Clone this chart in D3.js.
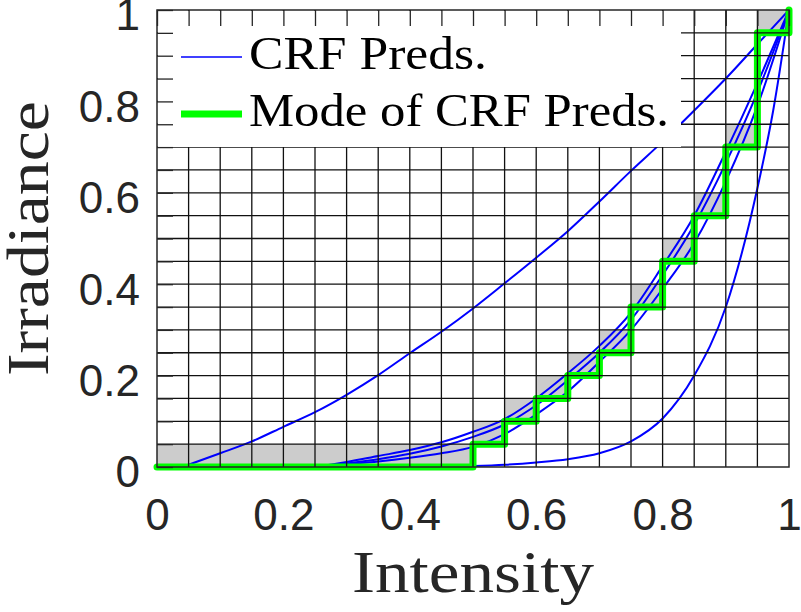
<!DOCTYPE html>
<html>
<head>
<meta charset="utf-8">
<script src="https://cdn.jsdelivr.net/npm/d3@7"></script>
<style>
  body { margin: 0; background: #fff; }
  svg { display: block; }
</style>
</head>
<body>
<div id="chart-area"></div>
<script>
// Mode of the predictions, one value per 0.05 intensity bin (last point closes the stairs at 1)
const modeX = [0, 0.05, 0.1, 0.15, 0.2, 0.25, 0.3, 0.35, 0.4, 0.45, 0.5,
               0.55, 0.6, 0.65, 0.7, 0.75, 0.8, 0.85, 0.9, 0.95, 1];
const modeY = [0, 0, 0, 0, 0, 0, 0, 0, 0, 0, 0.05,
               0.1, 0.15, 0.2, 0.25, 0.35, 0.45, 0.55, 0.7, 0.95, 1];
const binSize = 0.05;

// CRF predictions
const crfAX = [0.04, 0.1, 0.15, 0.2, 0.25, 0.3, 0.35, 0.4, 0.45, 0.5, 0.55, 0.6, 0.65, 0.7, 0.75, 0.8, 0.85, 0.9, 0.95, 1];
const crfAY = [0, 0.03, 0.056, 0.088, 0.12, 0.158, 0.201, 0.249, 0.296, 0.347, 0.402, 0.458, 0.516, 0.581, 0.648, 0.712, 0.78, 0.85, 0.925, 1];

const clusterX = [0.25, 0.3, 0.35, 0.4, 0.45, 0.5, 0.55, 0.6, 0.65, 0.7, 0.75, 0.8, 0.85, 0.9, 0.95, 1];
const crfBY = [0, 0.011, 0.024, 0.037, 0.054, 0.077, 0.105, 0.15, 0.205, 0.265, 0.338, 0.44, 0.55, 0.69, 0.84, 1];
const crfCY = [0, 0.008, 0.017, 0.029, 0.045, 0.066, 0.093, 0.135, 0.19, 0.25, 0.322, 0.42, 0.53, 0.665, 0.82, 1];
const crfDY = [0, 0.006, 0.012, 0.02, 0.03, 0.044, 0.072, 0.115, 0.165, 0.23, 0.3, 0.39, 0.49, 0.625, 0.79, 1];

const crfEX = [0.45, 0.5, 0.55, 0.6, 0.65, 0.7, 0.75, 0.8, 0.85, 0.9, 0.95, 0.975, 1];
const crfEY = [0, 0.002, 0.005, 0.01, 0.017, 0.03, 0.056, 0.106, 0.2, 0.35, 0.61, 0.78, 1];

const tickValues = [0, 0.2, 0.4, 0.6, 0.8, 1];
const tickLabels = ["0", "0.2", "0.4", "0.6", "0.8", "1"];
const legendLabels = ["CRF Preds.", "Mode of CRF Preds."];

// Chart dimensions
const width = 801;
const height = 612;
const plot = { left: 157, right: 789, top: 10, bottom: 467 };

const x = d3.scaleLinear().domain([0, 1]).range([plot.left, plot.right]);
const y = d3.scaleLinear().domain([0, 1]).range([plot.bottom, plot.top]);

const svg = d3.select("#chart-area")
    .append("svg")
    .attr("width", width)
    .attr("height", height);

svg.append("rect").attr("width", width).attr("height", height).attr("fill", "#fff");

// Gray cells: the mode bin in every column
const cells = modeX.slice(0, -1).map((v, i) => ({ x0: v, x1: modeX[i + 1], y0: modeY[i] }));
svg.selectAll(".cell")
    .data(cells)
    .enter()
    .append("rect")
    .attr("class", "cell")
    .attr("x", d => x(d.x0))
    .attr("y", d => y(d.y0 + binSize))
    .attr("width", d => x(d.x1) - x(d.x0))
    .attr("height", d => y(d.y0) - y(d.y0 + binSize))
    .attr("fill", "#cccccc");

// Blue prediction curves
const crfCurves = [
    crfAX.map((v, i) => [v, crfAY[i]]),
    clusterX.map((v, i) => [v, crfBY[i]]),
    clusterX.map((v, i) => [v, crfCY[i]]),
    clusterX.map((v, i) => [v, crfDY[i]]),
    crfEX.map((v, i) => [v, crfEY[i]])
];
const curveLine = d3.line()
    .x(d => x(d[0]))
    .y(d => y(d[1]))
    .curve(d3.curveMonotoneX);

svg.selectAll(".crf")
    .data(crfCurves)
    .enter()
    .append("path")
    .attr("class", "crf")
    .attr("d", curveLine)
    .attr("fill", "none")
    .attr("stroke", "#0000ff")
    .attr("stroke-width", 2);

// Green stairs for the mode
const stairs = d3.line()
    .x(d => x(d[0]))
    .y(d => y(d[1]))
    .curve(d3.curveStepAfter);
svg.append("path")
    .datum(modeX.map((v, i) => [v, modeY[i]]))
    .attr("d", stairs)
    .attr("fill", "none")
    .attr("stroke", "#00ff00")
    .attr("stroke-width", 7)
    .attr("stroke-linejoin", "round")
    .attr("stroke-linecap", "round");

// Grid on top of the data (20 x 20)
const gridVals = d3.range(1, 20).map(i => i * binSize);
svg.selectAll(".vgrid")
    .data(gridVals)
    .enter()
    .append("line")
    .attr("class", "vgrid")
    .attr("x1", d => x(d)).attr("x2", d => x(d))
    .attr("y1", plot.top).attr("y2", plot.bottom)
    .attr("stroke", "#111")
    .attr("stroke-width", 1.3);
svg.selectAll(".hgrid")
    .data(gridVals)
    .enter()
    .append("line")
    .attr("class", "hgrid")
    .attr("y1", d => y(d)).attr("y2", d => y(d))
    .attr("x1", plot.left).attr("x2", plot.right)
    .attr("stroke", "#111")
    .attr("stroke-width", 1.3);

// Legend box (no border), covers the grid
const legend = svg.append("g");
legend.append("rect")
    .attr("x", plot.left + 1)
    .attr("y", plot.top + 1)
    .attr("width", 680 - plot.left)
    .attr("height", 146 - plot.top)
    .attr("fill", "#fff");
const legendRows = [
    { label: legendLabels[0], color: "#0000ff", sw: 1.6, ly: 57, ty: 69, len: 238 },
    { label: legendLabels[1], color: "#00ff00", sw: 7, ly: 114, ty: 126, len: 420 }
];
legendRows.forEach(r => {
    legend.append("line")
        .attr("x1", 181).attr("x2", 242)
        .attr("y1", r.ly).attr("y2", r.ly)
        .attr("stroke", r.color)
        .attr("stroke-width", r.sw);
    legend.append("text")
        .attr("x", 249)
        .attr("y", r.ty)
        .attr("textLength", r.len)
        .attr("lengthAdjust", "spacingAndGlyphs")
        .style("font-family", "'Liberation Serif', 'DejaVu Serif', serif")
        .style("font-size", "47px")
        .style("fill", "#000")
        .text(r.label);
});

// Inward tick marks every 0.05 on all four sides
const allTicks = d3.range(0, 21).map(i => i * binSize);
const tickStyle = g => {
    g.select(".domain").remove();
    g.selectAll("line").attr("stroke", "#262626").attr("stroke-width", 1.3);
};
svg.append("g").attr("transform", `translate(0,${plot.top})`)
    .call(d3.axisTop(x).tickValues(allTicks).tickSize(-16).tickFormat(""))
    .call(tickStyle);
svg.append("g").attr("transform", `translate(${plot.left},0)`)
    .call(d3.axisLeft(y).tickValues(allTicks).tickSize(-16).tickFormat(""))
    .call(tickStyle);

// Axes box
svg.append("rect")
    .attr("x", plot.left).attr("y", plot.top)
    .attr("width", plot.right - plot.left)
    .attr("height", plot.bottom - plot.top)
    .attr("fill", "none")
    .attr("stroke", "#262626")
    .attr("stroke-width", 1.5);

// Tick labels
const labelStyle = g => {
    g.select(".domain").remove();
    g.selectAll("text")
        .style("font-family", "'Liberation Sans', Arial, sans-serif")
        .style("font-size", "44px")
        .style("fill", "#262626");
};
svg.append("g").attr("transform", `translate(0,${plot.bottom})`)
    .call(d3.axisBottom(x).tickValues(tickValues).tickSize(0).tickPadding(32)
        .tickFormat((d, i) => tickLabels[i]))
    .call(labelStyle);
svg.append("g").attr("transform", `translate(${plot.left},0)`)
    .call(d3.axisLeft(y).tickValues(tickValues).tickSize(0).tickPadding(17)
        .tickFormat((d, i) => tickLabels[i]))
    .call(labelStyle)
    .selectAll("text").attr("dy", "0.45em");

// Axis titles
svg.append("text")
    .attr("x", (plot.left + plot.right) / 2)
    .attr("y", 592)
    .attr("text-anchor", "middle")
    .attr("textLength", 242)
    .attr("lengthAdjust", "spacingAndGlyphs")
    .style("font-family", "'Liberation Serif', 'DejaVu Serif', serif")
    .style("font-size", "60px")
    .style("fill", "#262626")
    .text("Intensity");
svg.append("text")
    .attr("transform", `translate(48,${(plot.top + plot.bottom) / 2}) rotate(-90)`)
    .attr("text-anchor", "middle")
    .attr("textLength", 275)
    .attr("lengthAdjust", "spacingAndGlyphs")
    .style("font-family", "'Liberation Serif', 'DejaVu Serif', serif")
    .style("font-size", "60px")
    .style("fill", "#262626")
    .text("Irradiance");
</script>
</body>
</html>
